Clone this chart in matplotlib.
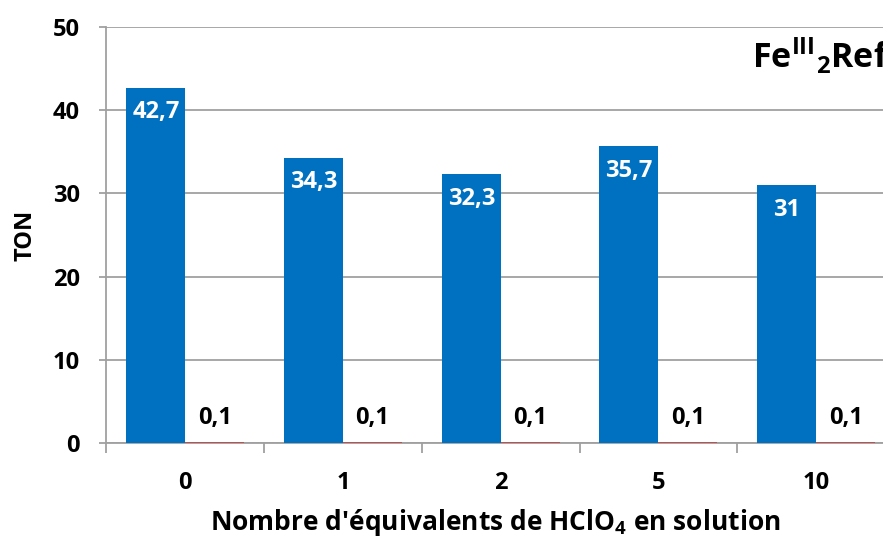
import matplotlib
matplotlib.use("Agg")
import matplotlib.pyplot as plt
import numpy as np

plt.rcParams['font.family'] = ['Open Sans', 'DejaVu Sans']
plt.rcParams['font.weight'] = 'bold'
plt.rcParams['mathtext.fontset'] = 'custom'
plt.rcParams['mathtext.rm'] = 'Open Sans:bold'
plt.rcParams['mathtext.it'] = 'Open Sans:bold'
plt.rcParams['mathtext.bf'] = 'Open Sans:bold'

# nombre d'équivalents d'acide et TON mesurés
categories = ['0', '1', '2', '5', '10']
ton_fe = [42.7, 34.3, 32.3, 35.7, 31]
ton_ref = [0.1, 0.1, 0.1, 0.1, 0.1]

BLEU = '#0070C0'
ROUGE = '#C0504D'
GRIS = '#A0A0A0'


def fmt_fr(v):
    return f'{v:g}'.replace('.', ',')


fig = plt.figure(figsize=(8.83, 5.41), dpi=100)
ax = fig.add_axes([0.1206, 0.1811, 0.893, 0.769])

x = np.arange(len(categories)) + 0.5
largeur = 0.374

barres_fe = ax.bar(x - largeur / 2, ton_fe, largeur, color=BLEU, zorder=3)
barres_ref = ax.bar(x + largeur / 2, ton_ref, largeur, color=ROUGE, zorder=3)

for b, v in zip(barres_fe, ton_fe):
    ax.annotate(fmt_fr(v), (b.get_x() + b.get_width() / 2, v),
                xytext=(0, -22), textcoords='offset points',
                ha='center', va='baseline', color='white',
                fontsize=17, fontweight='bold', zorder=4)
for b, v in zip(barres_ref, ton_ref):
    ax.annotate(fmt_fr(v), (b.get_x() + b.get_width() / 2, v),
                xytext=(0, 13), textcoords='offset points',
                ha='center', va='baseline', color='black',
                fontsize=17, fontweight='bold', zorder=4)

ax.set_xlim(0, len(categories))
ax.set_ylim(0, 50)
ax.set_yticks(range(0, 51, 10))
ax.yaxis.grid(True, color=GRIS, linewidth=1.3, zorder=0)
ax.set_axisbelow(True)

# graduations aux frontières, libellés au centre des groupes
ax.set_xticks(np.arange(len(categories) + 1))
ax.set_xticklabels([])
ax.set_xticks(x, minor=True)
ax.set_xticklabels(categories, minor=True)
ax.tick_params(axis='x', which='major', length=7, width=1.3, color=GRIS)
ax.tick_params(axis='x', which='minor', length=0, pad=20, labelsize=17)
ax.tick_params(axis='y', length=5, width=1.3, color=GRIS, pad=14, labelsize=17)

for s in ['top', 'right']:
    ax.spines[s].set_visible(False)
for s in ['left', 'bottom']:
    ax.spines[s].set_color(GRIS)
    ax.spines[s].set_linewidth(1.3)

fig.text(25 / 883, 1 - 235 / 541, 'TON', rotation=90, ha='center', va='center',
         fontsize=17, fontweight='bold')
fig.text(495 / 883, 1 - 522 / 541, "Nombre d'équivalents de HClO$_{4}$ en solution",
         ha='center', va='center', fontsize=19, fontweight='bold')
fig.text(752 / 883, 1 - 68 / 541, r'Fe$^{III}{}_{2}$Ref', ha='left', va='baseline',
         fontsize=24.5, fontweight='bold')

fig.savefig('out.png', dpi=100)
